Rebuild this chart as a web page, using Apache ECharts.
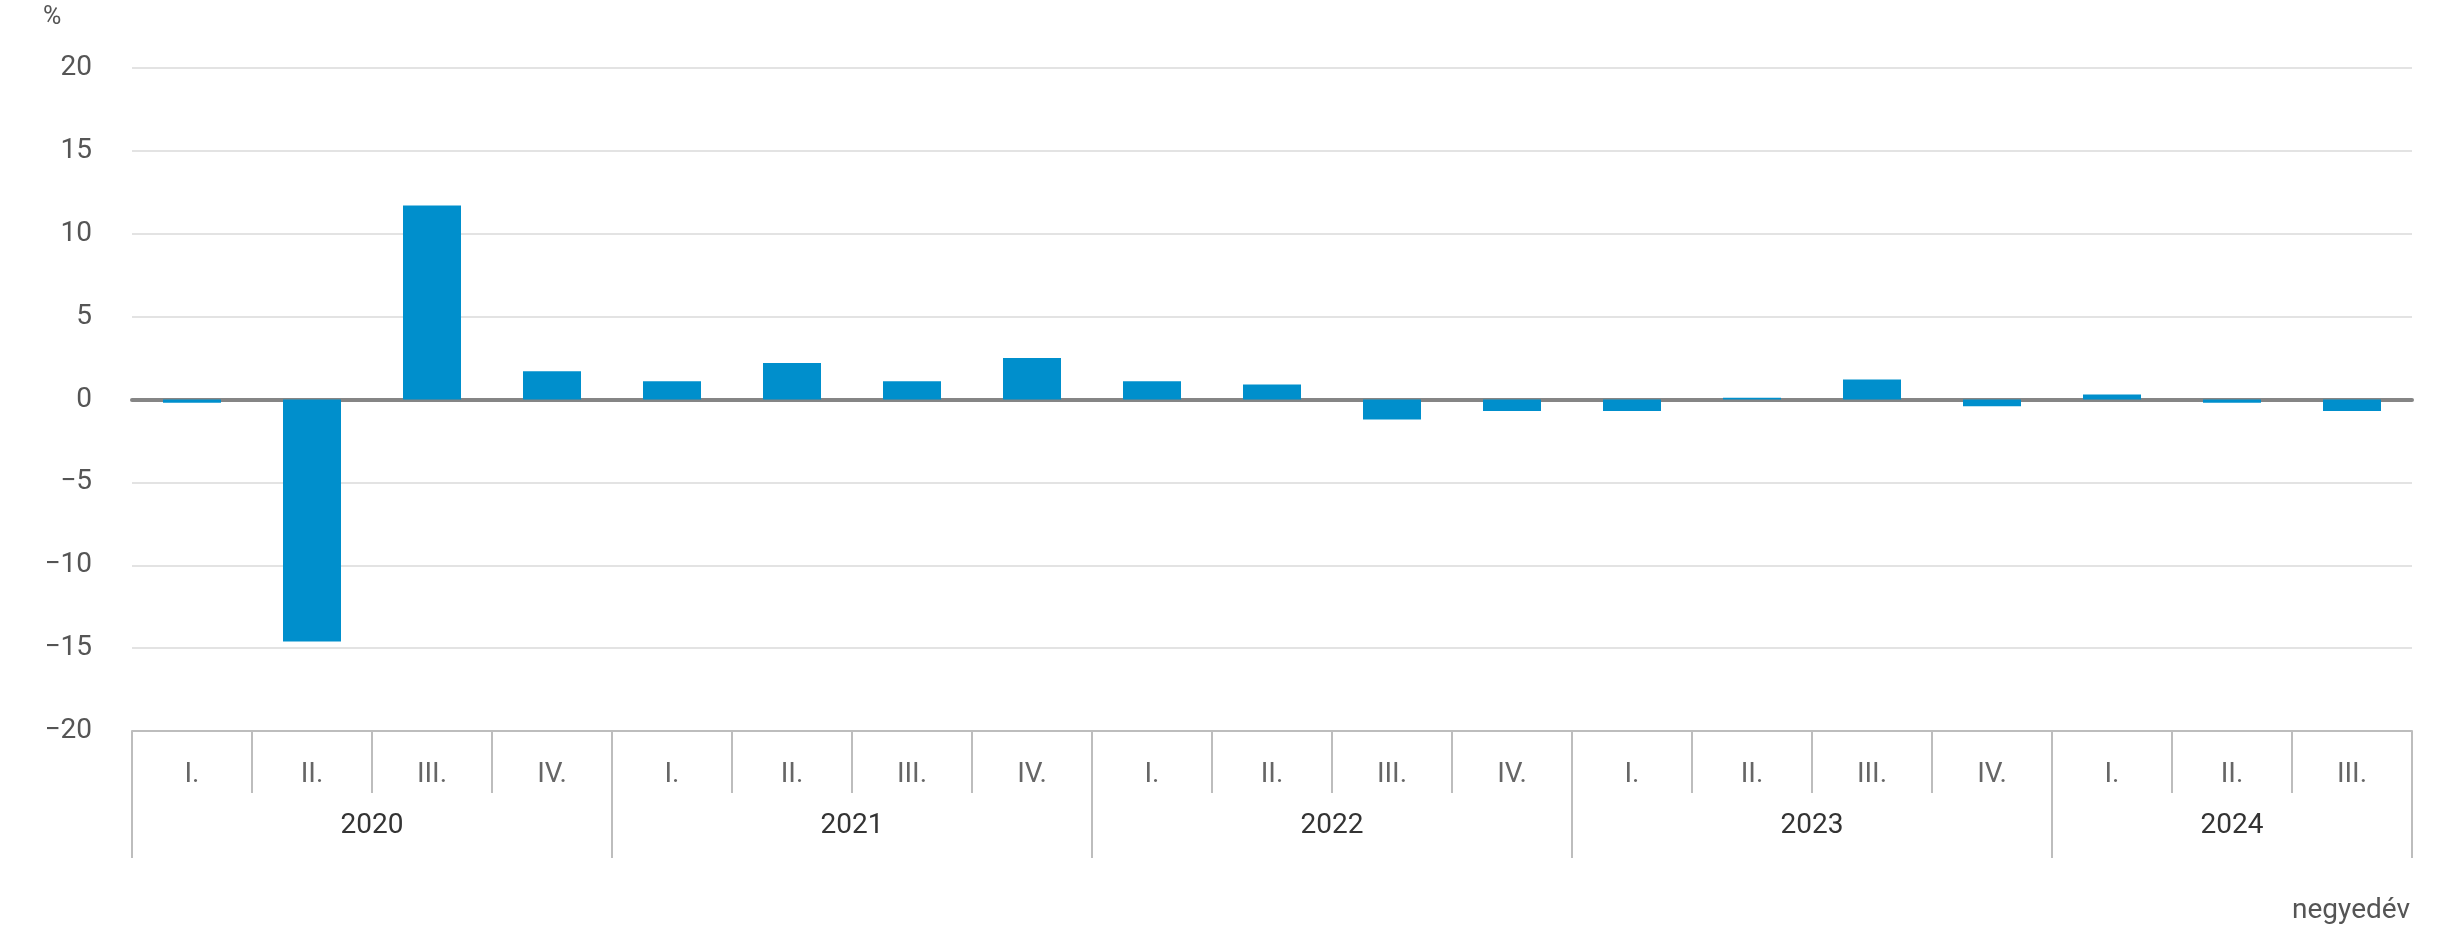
<!DOCTYPE html>
<html>
<head>
<meta charset="utf-8">
<script src="https://cdn.jsdelivr.net/npm/echarts@6/dist/echarts.min.js"></script>
<style>
  html, body { margin: 0; padding: 0; background: #fff; }
  #chart { width: 2450px; height: 932px; }
</style>
</head>
<body>
<div id="chart"></div>
<script>
// quarters along the x axis, grouped by year
const quarters = [
  "I.", "II.", "III.", "IV.",
  "I.", "II.", "III.", "IV.",
  "I.", "II.", "III.", "IV.",
  "I.", "II.", "III.", "IV.",
  "I.", "II.", "III."
];
const years = ["2020", "2021", "2022", "2023", "2024"];
const quartersPerYear = [4, 4, 4, 4, 3];

// change vs previous quarter, %
const values = [
  -0.2, -14.6, 11.7, 1.7,
  1.1, 2.2, 1.1, 2.5,
  1.1, 0.9, -1.2, -0.7,
  -0.7, 0.1, 1.2, -0.4,
  0.3, -0.2, -0.7
];

const yMin = -20;
const yMax = 20;
const yStep = 5;

// year group edges and centres on a 0..n scale
const yearEdges = [0];
quartersPerYear.forEach((n) => yearEdges.push(yearEdges[yearEdges.length - 1] + n));
const yearCenters = years.map((y, i) => (yearEdges[i] + yearEdges[i + 1]) / 2);

const font = "Roboto, 'Noto Sans', Arial, sans-serif";
const fontSize = 28;

const chart = echarts.init(document.getElementById("chart"));

const option = {
  animation: false,
  grid: {
    left: 132,
    right: 38,
    top: 68,
    bottom: 201,
    containLabel: false,
  },
  xAxis: [
    {
      // quarter row
      type: "category",
      data: quarters,
      position: "bottom",
      axisLine: { onZero: false, lineStyle: { color: "#bdbdbd", width: 2 } },
      axisTick: {
        show: true,
        interval: 0,
        length: 62,
        lineStyle: { color: "#bdbdbd", width: 2 },
      },
      axisLabel: {
        interval: 0,
        margin: 30,
        color: "#666",
        fontFamily: font,
        fontSize: fontSize,
      },
      splitLine: { show: false },
    },
    {
      // year row
      type: "value",
      min: 0,
      max: yearEdges[yearEdges.length - 1],
      position: "bottom",
      axisLine: { show: false, onZero: false },
      axisTick: {
        show: true,
        customValues: yearEdges,
        length: 127,
        lineStyle: { color: "#bdbdbd", width: 2 },
      },
      axisLabel: {
        customValues: yearCenters,
        margin: 81,
        color: "#333",
        fontFamily: font,
        fontSize: fontSize,
        formatter: (v) => {
          const i = yearCenters.indexOf(v);
          return i >= 0 ? years[i] : "";
        },
      },
      splitLine: { show: false },
    },
    {
      // zero line
      type: "category",
      data: quarters,
      position: "bottom",
      axisLine: { onZero: true, lineStyle: { color: "#858585", width: 4 } },
      axisTick: { show: false },
      axisLabel: { show: false },
      splitLine: { show: false },
    },
  ],
  yAxis: {
    type: "value",
    min: yMin,
    max: yMax,
    interval: yStep,
    axisLine: { show: false },
    axisTick: { show: false },
    axisLabel: {
      margin: 40,
      color: "#555",
      fontFamily: font,
      fontSize: fontSize,
      formatter: (v) => (v < 0 ? "\u2212" + Math.abs(v) : String(v)),
    },
    splitLine: { lineStyle: { color: "#e3e3e3", width: 2 } },
  },
  graphic: [
    {
      type: "text",
      left: 43,
      top: 5,
      style: { text: "%", fill: "#555", font: `${fontSize - 3}px ${font}` },
    },
    {
      type: "text",
      right: 40,
      top: 897,
      style: { text: "negyedév", fill: "#555", font: `${fontSize}px ${font}` },
    },
  ],
  series: [
    {
      type: "bar",
      xAxisIndex: 0,
      data: values,
      barWidth: 58,
      itemStyle: { color: "#008fcc" },
    },
  ],
};

chart.setOption(option);

window.addEventListener("resize", () => {
  chart.resize();
});
</script>
</body>
</html>
